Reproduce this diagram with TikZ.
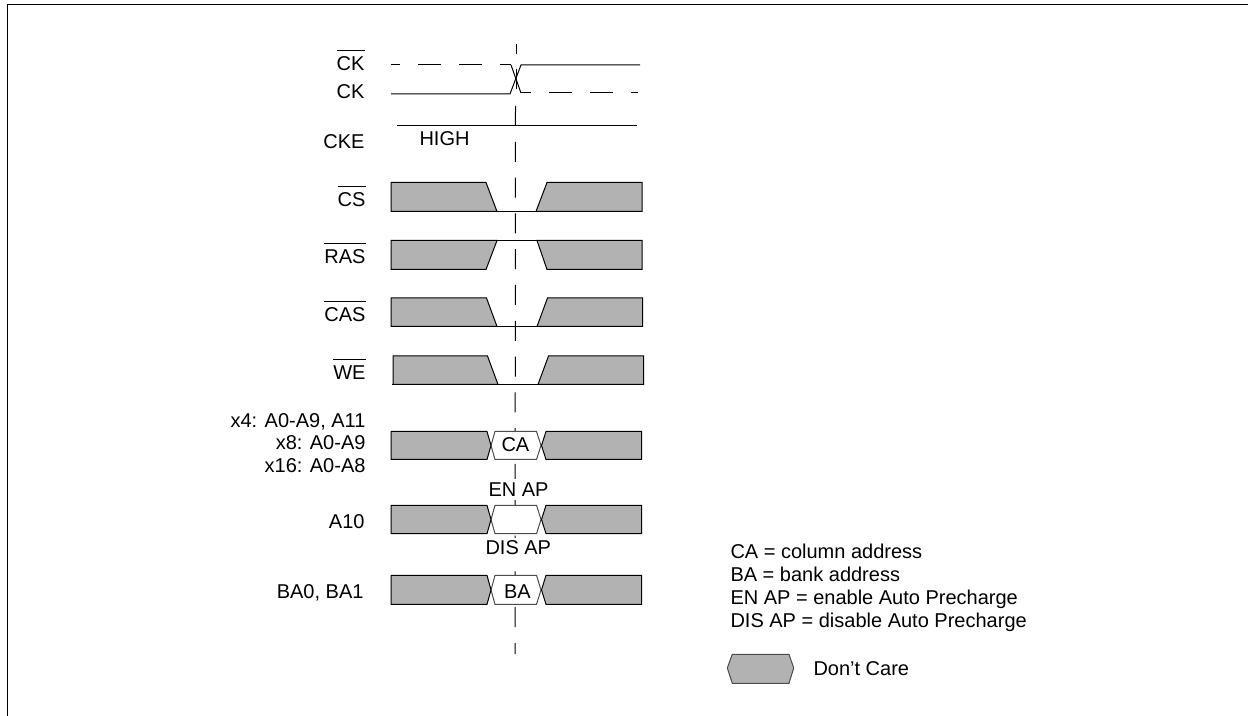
\documentclass[tikz,border=0pt]{standalone}
\usepackage{fontspec}
\setmainfont{Liberation Sans}
\usepackage{tikz}
\usetikzlibrary{positioning}

\definecolor{dcgray}{HTML}{B2B2B2}
\newcommand{\sigbar}[1]{$\overline{\mbox{\rule{0pt}{8.4pt}#1}}$}

\begin{document}
\begin{tikzpicture}[
    x=0.5pt, y=-0.5pt,
    line width=0.5pt,
    siglabel/.style={anchor=base east, inner sep=0pt, font=\fontsize{10}{11}\selectfont},
    sigtext/.style={anchor=base west, inner sep=0pt, font=\fontsize{10}{11}\selectfont},
    gaptext/.style={anchor=base west, inner sep=1.5pt, fill=white, font=\fontsize{10}{11}\selectfont},
    dontcare/.style={draw=black, fill=dcgray},
    valid/.style={draw=black!70, fill=white},
    clockline/.style={dash pattern=on 11.5pt off 9pt},
    marker/.style={dash pattern=on 10pt off 7.9pt}
]
\useasboundingbox (0,0) rectangle (1248,716);

% frame
\draw (7,716) -- (7,4.7) -- (1248,4.7);

% centre marker
\draw (516,44) -- (516,54);
\draw (516,69) -- (516,89);
\draw[marker] (515.5,106) -- (515,654);

% clocks
\draw[clockline, dash phase=7pt] (391,65) -- (511,65);
\draw (511,65) -- (521,93);
\draw[clockline, dash phase=6.5pt] (521,93) -- (638,93);
\draw (391,94) -- (510,94) -- (521,65) -- (640,65);

% cke
\draw (397,125.5) -- (637,125.5);
\node[sigtext] (hightext) at (419,145.5) {HIGH};

% cs
\draw[dontcare] (391,182.5) -- (486,182.5) -- (497,211.5) -- (391,211.5) -- cycle;
\draw[dontcare] (547,182.5) -- (642,182.5) -- (642,211.5) -- (536,211.5) -- cycle;
\draw (497,211.5) -- (536,211.5);

% ras
\draw[dontcare] (391,240.5) -- (497,240.5) -- (486,269.5) -- (391,269.5) -- cycle;
\draw[dontcare] (537,240.5) -- (642,240.5) -- (642,269.5) -- (547,269.5) -- cycle;
\draw (497,240.5) -- (537,240.5);

% cas
\draw[dontcare] (391,298) -- (486.5,298) -- (497,326.5) -- (391,326.5) -- cycle;
\draw[dontcare] (547.5,298) -- (642.7,298) -- (642.7,326.5) -- (537,326.5) -- cycle;
\draw (497,326.5) -- (537,326.5);

% we
\draw[dontcare] (393,356) -- (487.5,356) -- (498,384.5) -- (393,384.5) -- cycle;
\draw[dontcare] (548.5,356) -- (643.5,356) -- (643.5,384.5) -- (538,384.5) -- cycle;
\draw (392,384.5) -- (538,384.5);

% address
\draw[valid] (491,445.5) -- (495,431.5) -- (536.5,431.5) -- (541,445.5) -- (536.5,459.5) -- (495,459.5) -- cycle;
\draw[dontcare] (391,431.5) -- (487,431.5) -- (491,445.5) -- (487,459.5) -- (391,459.5) -- cycle;
\draw[dontcare] (546,431.5) -- (641.7,431.5) -- (641.7,459.5) -- (546,459.5) -- (541.5,445.5) -- cycle;
\node[sigtext] (catext) at (501,451.5) {CA};

% a10
\node[gaptext] (entext) at (485,496) {EN AP};
\draw[valid] (491,519.5) -- (495,505.3) -- (536.5,505.3) -- (541,519.5) -- (536.5,533.7) -- (495,533.7) -- cycle;
\draw[dontcare] (391,505.3) -- (487,505.3) -- (491,519.5) -- (487,533.7) -- (391,533.7) -- cycle;
\draw[dontcare] (546,505.3) -- (641.7,505.3) -- (641.7,533.7) -- (546,533.7) -- (541.5,519.5) -- cycle;
\node[gaptext] (distext) at (482,554.5) {DIS AP};

% ba
\draw[valid] (491,590) -- (495,575.3) -- (536.5,575.3) -- (541,590) -- (536.5,604.3) -- (495,604.3) -- cycle;
\draw[dontcare] (391,575.3) -- (487,575.3) -- (491,590) -- (487,604.3) -- (391,604.3) -- cycle;
\draw[dontcare] (546,575.3) -- (641.7,575.3) -- (641.7,604.3) -- (546,604.3) -- (541.5,590) -- cycle;
\node[sigtext] (batext) at (503.5,598) {BA};

% signal names
\node[siglabel] (cknlabel) at (365,70.5) {\sigbar{CK}};
\node[siglabel] (cklabel) at (365,98.5) {CK};
\node[siglabel] (ckelabel) at (365,148.5) {CKE};
\node[siglabel] (cslabel) at (366,206.5) {\sigbar{CS}};
\node[siglabel] (raslabel) at (366,263.5) {\sigbar{RAS}};
\node[siglabel] (caslabel) at (366,321.5) {\sigbar{CAS}};
\node[siglabel] (welabel) at (366,379.5) {\sigbar{WE}};
\node[siglabel] (xfourlabel) at (366,427.5) {x4: A0-A9, A11};
\node[siglabel] (xeightlabel) at (366,449.5) {x8: A0-A9};
\node[siglabel] (xsixteenlabel) at (366,472.5) {x16: A0-A8};
\node[siglabel] (atenlabel) at (365,528.5) {A10};
\node[siglabel] (balabel) at (364,598.5) {BA0, BA1};

% legend
\node[sigtext] (calegend) at (730,558.5) {CA = column address};
\node[sigtext] (balegend) at (730,581.5) {BA = bank address};
\node[sigtext] (enlegend) at (730,604.5) {EN AP = enable Auto Precharge};
\node[sigtext] (dislegend) at (730,627.5) {DIS AP = disable Auto Precharge};
\draw[draw=black!70, fill=dcgray] (727.3,668) -- (732.3,654.3) -- (789,654.3) -- (793.7,668) -- (789,683.3) -- (732.3,683.3) -- cycle;
\node[sigtext] (carelegend) at (813,675.5) {Don’t Care};
\end{tikzpicture}
\end{document}
